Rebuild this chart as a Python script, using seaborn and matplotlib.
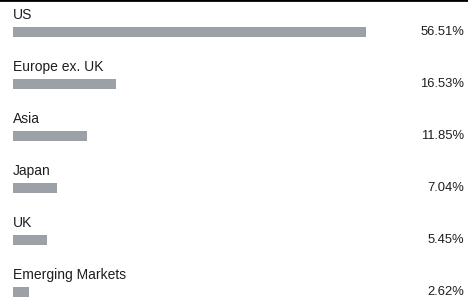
import matplotlib
matplotlib.use("Agg")
import matplotlib.pyplot as plt
import seaborn as sns
import pandas as pd

regions = ["US", "Europe ex. UK", "Asia", "Japan", "UK", "Emerging Markets"]
weights = [56.51, 16.53, 11.85, 7.04, 5.45, 2.62]
value_labels = ["56.51%", "16.53%", "11.85%", "7.04%", "5.45%", "2.62%"]

df = pd.DataFrame({"region": regions, "weight": weights})

sns.set_style("white")
plt.rcParams["font.family"] = ["Liberation Sans", "DejaVu Sans"]

bar_color = "#9ca1a7"
text_color = "#1e1e1e"

fig = plt.figure(figsize=(4.68, 3.0), dpi=100)
ax = fig.add_axes([0, 0, 1, 1])

sns.barplot(data=df, x="weight", y="region", orient="h", color=bar_color,
            saturation=1, width=0.2, linewidth=0, ax=ax)

# 6.25 px per percent, bars start 13 px from the left edge
ax.set_xlim(-13 / 6.25, (468 - 13) / 6.25)
ax.set_ylim(5 + 8 / 52, -32 / 52)

for i, (name, lab) in enumerate(zip(regions, value_labels)):
    ax.text(0, i - 0.32, name, ha="left", va="center", fontsize=10, color=text_color)
    ax.text(1 - 4 / 468, i, lab, ha="right", va="center", fontsize=9.4,
            color=text_color, transform=ax.get_yaxis_transform())

ax.set_xlabel("")
ax.set_ylabel("")
ax.set_xticks([])
ax.set_yticks([])
for side in ["left", "right", "bottom"]:
    ax.spines[side].set_visible(False)
ax.spines["top"].set_visible(True)
ax.spines["top"].set_linewidth(2)
ax.spines["top"].set_color("black")

fig.savefig("out.png", dpi=100)
